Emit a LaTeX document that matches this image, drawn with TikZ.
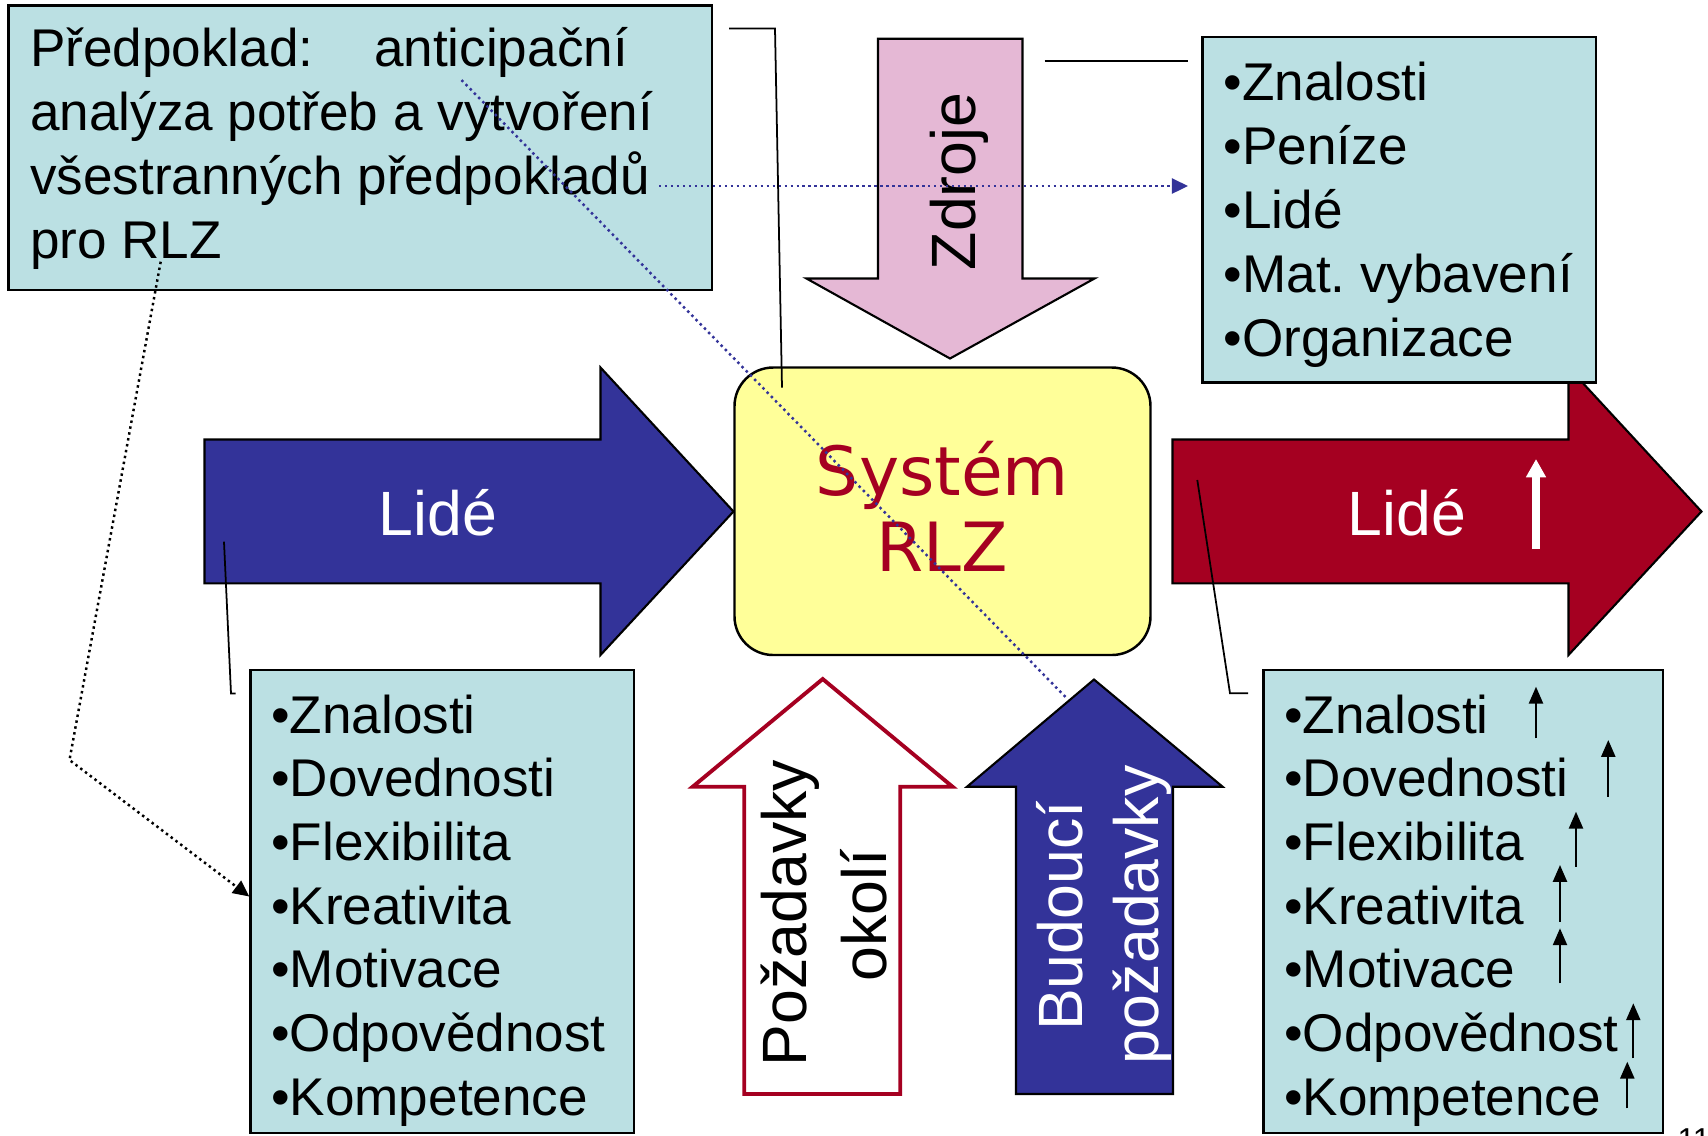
\documentclass[tikz,border=0pt]{standalone}
\usepackage{fontspec}
\setmainfont{Liberation Sans}
\newfontfamily\verdfont{DejaVu Sans}
\usetikzlibrary{arrows.meta,fit}
\definecolor{boxfill}{HTML}{BBE0E3}
\definecolor{pptblue}{HTML}{333399}
\definecolor{pptred}{HTML}{A50021}
\definecolor{pptyellow}{HTML}{FFFF99}
\definecolor{pptpink}{HTML}{E5B8D5}
\frenchspacing
\begin{document}
\begin{tikzpicture}[x=0.01cm,y=-0.01cm,
  tbox/.style={draw=black, fill=boxfill, line width=0.7pt, inner sep=0pt, rectangle},
  listtext/.style={anchor=base west, inner sep=0pt, font=\frenchspacing\fontsize{15.1pt}{18pt}\selectfont},
  biglabel/.style={anchor=base, inner sep=0pt, font=\fontsize{17.8pt}{21pt}\selectfont},
  systext/.style={anchor=base, inner sep=0pt, text=pptred, font=\verdfont\fontsize{19.3pt}{23pt}\selectfont},
  arrowshape/.style={draw=black, line width=0.6pt},
  leader/.style={draw=black, line width=0.5pt},
  bluedot/.style={draw=pptblue, line width=0.7pt, densely dotted},
  blackdot/.style={draw=black, line width=0.7pt, densely dotted},
  uparr/.style={draw=black, line width=0.6pt, -{Triangle[length=4.8pt,width=4pt]}},
  dottip/.style={-{Triangle[length=4.6pt,width=4.3pt]}}
]
\useasboundingbox (0,0) rectangle (1708,1135);
\fill[white] (0,0) rectangle (1708,1135);

% ---- big arrows ----
\path[arrowshape, fill=pptblue] (204.5,439.5) -- (600.5,439.5) -- (600.5,367.5) -- (733.5,511.5)
  -- (600.5,655) -- (600.5,583.3) -- (204.5,583.3) -- cycle;
\path[arrowshape, fill=pptred] (1172.5,439.5) -- (1568.5,439.5) -- (1568.5,367.5) -- (1701.5,511.5)
  -- (1568.5,655) -- (1568.5,583.3) -- (1172.5,583.3) -- cycle;
\path[arrowshape, fill=pptpink] (878,38.7) -- (1022.5,38.7) -- (1022.5,278.5) -- (1094.5,278.5)
  -- (950,358.5) -- (806.5,278.5) -- (878,278.5) -- cycle;
\path[draw=pptred, line width=1.1pt, fill=white] (744.3,1094) -- (744.3,786.7) -- (692.7,786.7)
  -- (822.7,679) -- (952.5,786.7) -- (900.3,786.7) -- (900.3,1094) -- cycle;
\path[arrowshape, fill=pptblue] (1016,1094) -- (1016,786.7) -- (967,786.7) -- (1094,679.5)
  -- (1222.6,786.7) -- (1173,786.7) -- (1173,1094) -- cycle;

% ---- boxes ----
\node[tbox, fit={(8.7,5.4)(712,290)}] (pred) {};
\node[tbox, fit={(1202.6,37)(1596,382.5)}] (zdrbox) {};
\node[tbox, fit={(250.5,670)(634,1133)}] (leftbox) {};
\node[tbox, fit={(1263.5,670)(1663,1133)}] (rightbox) {};
\node[draw=black, line width=0.7pt, fill=pptyellow, rounded corners=11pt, inner sep=0pt,
  fit={(734.5,367.5)(1150.5,655)}] (sys) {};

% ---- texts ----
\node[listtext] (p1) at (29.5,66.7) {Předpoklad:\hspace{17.2pt}anticipační};
\node[listtext] (p2) at (29.5,130.7) {analýza potřeb a vytvoření};
\node[listtext] (p3) at (29.5,194.7) {všestranných předpokladů};
\node[listtext] (p4) at (29.5,258.7) {pro RLZ};

\foreach \t [count=\i from 0] in {Znalosti,Peníze,Lidé,Mat. vybavení,Organizace}
  \node[listtext] (zr\i) at (1223,100+64*\i) {•\t};

\foreach \t [count=\i from 0] in {Znalosti,Dovednosti,Flexibilita,Kreativita,Motivace,Odpovědnost,Kompetence}{
  \node[listtext] (lb\i) at (270.5,733+63.7*\i) {•\t};
  \node[listtext] (rb\i) at (1283.5,733+63.7*\i) {•\t};
}

\node[biglabel, text=white] (lideL) at (438,535) {Lidé};
\node[biglabel, text=white] (lideR) at (1407,535) {Lidé};
\node[biglabel, rotate=90] (zdroje) at (975,181.5) {Zdroje};
\node[biglabel, rotate=90] (poz1) at (806,913) {Požadavky};
\node[biglabel, rotate=90] (poz2) at (886,915) {okolí};
\node[biglabel, rotate=90, text=white] (bud1) at (1082,916) {Budoucí};
\node[biglabel, rotate=90, text=white] (bud2) at (1158,915) {požadavky};
\node[systext] (sys1) at (942.5,495) {Systém};
\node[systext] (sys2) at (942.5,571.7) {RLZ};
\node[anchor=north west, inner sep=0pt, font=\fontsize{9pt}{11pt}\selectfont] (pg) at (1677,1128) {11};

% ---- small up arrows ----
\draw[white, line width=2pt, -{Triangle[length=5.2pt,width=5.4pt]}] (1536,549) -- (1536,459);
\draw[uparr] (1536,738.3) -- (1536,686.7);
\draw[uparr] (1608.3,796.7) -- (1608.3,740);
\draw[uparr] (1576,866.7) -- (1576,811.7);
\draw[uparr] (1560,921.7) -- (1560,865);
\draw[uparr] (1560,983.3) -- (1560,928.3);
\draw[uparr] (1633.3,1058.3) -- (1633.3,1003.3);
\draw[uparr] (1627.3,1108.3) -- (1627.3,1061.7);

% ---- leader lines ----
\coordinate (c1a) at (729,28.5);
\coordinate (c1b) at (775,28.5);
\coordinate (c1c) at (782,387.5);
\draw[leader] (c1a) -- (c1b) -- (c1c);
\coordinate (c2a) at (1044.5,60.7);
\coordinate (c2b) at (1188,60.7);
\draw[leader] (c2a) -- (c2b);
\coordinate (c3a) at (224,541.7);
\coordinate (c3b) at (231,693.5);
\coordinate (c3c) at (235.5,693.5);
\draw[leader] (c3a) -- (c3b) -- (c3c);
\coordinate (c4a) at (1197.3,480);
\coordinate (c4b) at (1230,693.3);
\coordinate (c4c) at (1248,693.3);
\draw[leader] (c4a) -- (c4b) -- (c4c);

% ---- dotted connectors ----
\coordinate (d1a) at (461.5,80);
\coordinate (d1b) at (1067.5,699);
\draw[bluedot] (d1a) -- (d1b);
\coordinate (d2a) at (659,186);
\coordinate (d2b) at (1188,186);
\draw[bluedot, dottip, pptblue] (d2a) -- (d2b);
\coordinate (d3a) at (160.7,261.7);
\coordinate (d3b) at (69.5,760);
\coordinate (d3c) at (250.4,896.5);
\draw[blackdot, dottip] (d3a) -- (d3b) -- (d3c -| leftbox.west);
\end{tikzpicture}
\end{document}
